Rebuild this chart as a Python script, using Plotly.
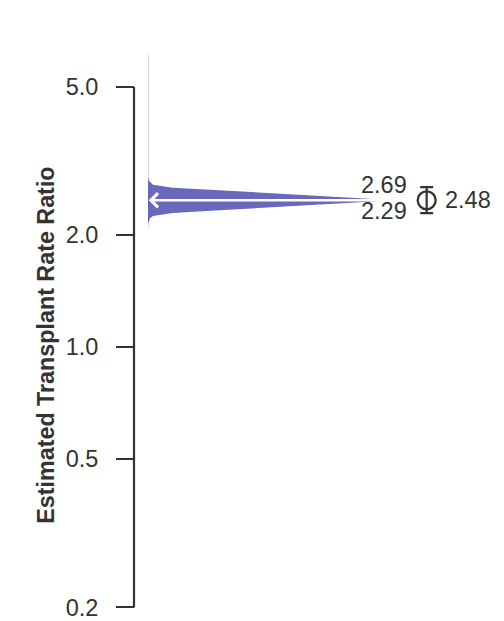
import numpy as np
import plotly.graph_objects as go

# ---- data ----
# posterior density of the transplant rate ratio (rate ratio grid, relative density)
rr_grid = [2.098, 2.150, 2.165, 2.190, 2.219, 2.251, 2.293, 2.331, 2.361, 2.405, 2.450,
           2.480,
           2.511, 2.558, 2.605, 2.638, 2.682, 2.732, 2.772, 2.800, 2.841, 2.860, 6.10]
density = [0.001, 0.001, 0.002, 0.004, 0.008, 0.020, 0.100, 0.290, 0.433, 0.646, 0.858,
           1.000,
           0.858, 0.646, 0.433, 0.290, 0.100, 0.020, 0.008, 0.004, 0.002, 0.001, 0.001]

estimate = 2.48
ci_low = 2.29
ci_high = 2.69

tick_vals = [0.2, 0.5, 1.0, 2.0, 5.0]
tick_text = ["0.2", "0.5", "1.0", "2.0", "5.0"]
y_title = "Estimated Transplant Rate Ratio"

# ---- styling ----
FONT = "Liberation Sans, Arial, Helvetica, sans-serif"
INK = "#333333"
FILL = "rgb(104,104,189)"
FS = 23.5

# the page body adds an 8px margin, so the figure is drawn 8px smaller
W, H = 496, 613
L = 126
x_max = 1.441
point_x = 1.128
label_ci_x = 1.056
label_est_x = 1.194

fig = go.Figure()

# density (half-eye) filled towards x = 0
xs = [0.0] + density + [0.0]
ys = [rr_grid[0]] + rr_grid + [rr_grid[-1]]
fig.add_trace(go.Scatter(
    x=xs, y=ys, mode="lines", fill="tozerox",
    line=dict(width=0, color=FILL), fillcolor=FILL,
    hoverinfo="skip", showlegend=False,
))

# point estimate with interval
fig.add_trace(go.Scatter(
    x=[point_x], y=[estimate], mode="markers",
    marker=dict(symbol="circle-open", size=18, color=INK, line=dict(width=2.3, color=INK)),
    error_y=dict(type="data", symmetric=False,
                 array=[ci_high - estimate], arrayminus=[estimate - ci_low],
                 color=INK, thickness=2.2, width=6.5),
    showlegend=False, hoverinfo="skip",
))

annotations = [
    # white median line with open arrow head
    dict(x=0.003, y=np.log10(estimate), ax=1.0, ay=np.log10(estimate),
         xref="x", yref="y", axref="x", ayref="y", text="",
         showarrow=True, arrowhead=4, arrowsize=1.05, arrowwidth=2.6,
         arrowcolor="white"),
    dict(x=label_ci_x, y=np.log10(ci_high), xref="x", yref="y", text=f"{ci_high:.2f}",
         showarrow=False, xanchor="right", yanchor="middle", yshift=2,
         font=dict(family=FONT, size=FS, color=INK)),
    dict(x=label_ci_x, y=np.log10(ci_low), xref="x", yref="y", text=f"{ci_low:.2f}",
         showarrow=False, xanchor="right", yanchor="middle", yshift=2,
         font=dict(family=FONT, size=FS, color=INK)),
    dict(x=label_est_x, y=np.log10(estimate), xref="x", yref="y", text=f"{estimate:.2f}",
         showarrow=False, xanchor="left", yanchor="middle",
         font=dict(family=FONT, size=FS, color=INK)),
    dict(x=(38 - L) / (W - L), y=1 - 340.5 / H, xref="paper", yref="paper",
         text=f"<b>{y_title}</b>", textangle=-90, showarrow=False,
         xanchor="center", yanchor="middle",
         font=dict(family=FONT, size=23.3, color=INK)),
]

shapes = [
    dict(type="line", xref="paper", yref="y", x0=0, x1=0,
         y0=tick_vals[0], y1=tick_vals[-1], line=dict(color=INK, width=2.2)),
]

fig.update_layout(
    width=W, height=H,
    margin=dict(l=L, r=0, t=0, b=0, pad=0),
    paper_bgcolor="white", plot_bgcolor="white",
    font=dict(family=FONT, size=FS, color=INK),
    xaxis=dict(domain=[14 / (W - L), 1], range=[0, x_max], visible=False,
               fixedrange=True),
    yaxis=dict(type="log", range=[-0.722, 0.9109], anchor="free", position=0,
               tickvals=tick_vals, ticktext=tick_text,
               ticks="outside", ticklen=18, tickwidth=2.2, tickcolor=INK,
               ticklabelstandoff=13, ticklabeloverflow="allow",
               showline=False, showgrid=False, zeroline=False,
               tickfont=dict(family=FONT, size=FS, color=INK)),
    annotations=annotations,
    shapes=shapes,
    showlegend=False,
)

fig.write_html("out.html")
